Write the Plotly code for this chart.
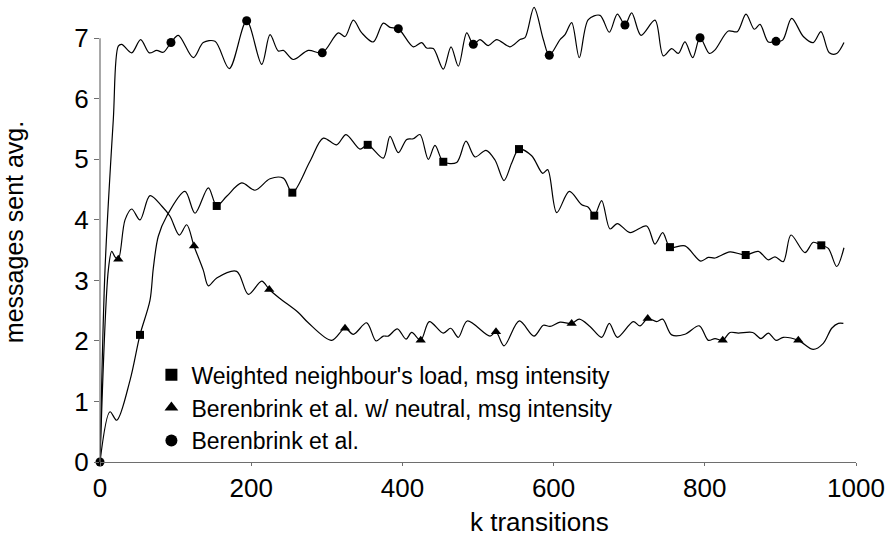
import plotly.graph_objects as go

# ---------------- data ----------------
ber_x = [0, 6.6, 17.6, 24.2, 28.7, 41.9, 53.8, 65.2, 75.0, 83.7, 93.9, 103.6, 123.4, 136.6, 152.1,
         171.0, 194.0, 213.9, 224.9, 235.8, 242.5, 255.7, 275.5, 294.0, 315.2, 324.1, 335.1, 346.2,
         361.5, 374.7, 383.6, 394.6, 414.4, 425.5, 432.1, 440.9, 454.1, 464.3, 474.0, 485.1, 493.8,
         502.6, 513.6, 524.7, 542.3, 555.6, 562.2, 574.1, 586.4, 594.3, 608.5, 615.1, 623.9, 634.0,
         645.9, 661.4, 673.7, 684.3, 694.4, 703.3, 715.6, 734.1, 745.1, 756.2, 764.9, 773.8, 784.0,
         793.7, 806.0, 813.5, 831.1, 843.0, 854.5, 865.5, 873.0, 884.0, 894.2, 903.0, 914.9, 930.3,
         943.5, 953.7, 964.7, 974.5, 984.1]
ber_y = [0, 3.17, 5.66, 6.87, 6.90, 6.76, 6.98, 6.76, 6.80, 6.77, 6.93, 7.05, 6.68, 6.93, 6.95,
         6.50, 7.29, 6.57, 7.06, 6.79, 6.80, 6.65, 6.80, 6.76, 7.09, 7.03, 7.30, 7.09,
         6.94, 7.25, 7.18, 7.16, 6.86, 6.93, 6.84, 6.83, 6.49, 6.86, 6.54, 7.09, 6.90,
         6.98, 6.88, 6.98, 6.86, 6.98, 7.01, 7.51, 6.98, 6.72, 6.98, 7.06, 7.26, 6.68,
         7.31, 7.38, 7.10, 7.40, 7.22, 7.42, 7.05, 7.30, 6.71, 6.83, 6.75, 6.94, 6.68,
         7.01, 6.75, 6.81, 7.12, 7.11, 7.40, 7.15, 7.23, 6.94, 6.95, 6.97, 7.33, 7.03,
         6.93, 7.11, 6.76, 6.75, 6.93]
ber_mark_x = [0, 93.9, 194.0, 294.0, 394.6, 493.8, 594.3, 694.4, 793.7, 894.2]
ber_mark_y = [0, 6.93, 7.29, 6.76, 7.16, 6.90, 6.72, 7.22, 7.01, 6.95]

wnl_x = [0, 13.2, 22.1, 39.7, 52.9, 66.1, 70.5, 77.1, 88.2, 112.4, 125.7, 143.3, 154.4, 167.6,
         187.4, 205.0, 224.9, 242.5, 254.4, 277.8, 295.4, 313.1, 325.4, 343.9, 354.1, 374.7,
         383.6, 394.6, 405.7, 414.4, 423.3, 434.3, 443.1, 454.1, 471.8, 484.1, 496.0, 510.6,
         522.5, 534.4, 544.6, 554.2, 571.0, 585.6, 592.2, 604.1, 620.8, 637.2, 645.9, 653.8,
         663.6, 674.6, 684.3, 701.1, 723.1, 734.1, 744.3, 753.9, 773.8, 794.6, 804.6, 813.5,
         833.3, 854.1, 870.8, 884.0, 892.9, 903.8, 914.0, 932.5, 943.5, 954.1, 963.4, 974.5, 984.1]
wnl_y = [0, 0.83, 0.69, 1.35, 2.10, 2.67, 3.20, 3.73, 4.06, 4.47, 4.11, 4.53, 4.23, 4.39,
         4.61, 4.49, 4.68, 4.69, 4.45, 4.97, 5.35, 5.24, 5.41, 5.17, 5.24, 5.02,
         5.38, 5.11, 5.33, 5.34, 5.41, 5.00, 5.23, 4.96, 4.95, 5.30, 5.04, 5.15,
         4.99, 4.65, 4.94, 5.17, 5.06, 4.77, 4.83, 4.12, 4.47, 4.25, 4.21, 4.07,
         4.32, 3.85, 3.94, 3.79, 3.90, 3.60, 3.79, 3.55, 3.57, 3.32, 3.38, 3.37,
         3.47, 3.42, 3.48, 3.34, 3.39, 3.31, 3.75, 3.46, 3.63, 3.58, 3.53, 3.23, 3.54]
wnl_mark_x = [52.9, 154.4, 254.4, 354.1, 454.1, 554.2, 653.8, 753.9, 854.1, 954.1]
wnl_mark_y = [2.10, 4.23, 4.45, 5.24, 4.96, 5.17, 4.07, 3.55, 3.42, 3.58]

neu_x = [0, 11.0, 15.5, 19.8, 24.2, 33.1, 41.9, 52.9, 66.1, 81.6, 92.6, 104.9, 114.7, 124.3,
         136.6, 143.3, 154.4, 180.8, 196.2, 213.9, 223.9, 238.1, 262.3, 275.5, 306.5, 324.1,
         335.1, 352.8, 365.1, 374.7, 381.3, 393.3, 404.8, 412.3, 424.2, 435.6, 454.1, 463.9,
         473.9, 485.8, 515.9, 523.8, 534.4, 554.6, 574.1, 586.4, 595.2, 608.5, 623.9, 634.0,
         648.1, 663.6, 673.7, 684.3, 705.4, 714.3, 724.5, 736.4, 744.3, 756.2, 773.8, 792.7,
         804.6, 813.5, 823.7, 833.3, 844.3, 863.4, 874.3, 884.0, 894.2, 903.8, 923.7, 943.5,
         956.7, 967.9, 976.7, 983.3]
neu_y = [0, 3.17, 3.48, 3.39, 3.35, 4.00, 4.18, 4.00, 4.40, 4.23, 4.06, 3.75, 3.92, 3.57,
         3.17, 2.91, 3.04, 3.15, 2.77, 2.99, 2.85, 2.70, 2.47, 2.30, 2.01, 2.21,
         2.11, 2.30, 2.00, 2.08, 2.08, 2.20, 2.03, 2.14, 2.01, 2.32, 2.13, 2.21,
         2.06, 2.33, 2.08, 2.15, 1.92, 2.33, 2.08, 2.26, 2.24, 2.31, 2.29, 2.36,
         2.24, 2.06, 2.29, 2.06, 2.32, 2.25, 2.37, 2.32, 2.36, 2.10, 2.11, 2.25,
         2.01, 2.04, 2.01, 2.14, 2.13, 2.14, 2.04, 2.13, 2.01, 2.06, 2.01, 1.86,
         1.96, 2.21, 2.29, 2.29]
neu_mark_x = [24.2, 124.3, 223.9, 324.1, 424.2, 523.8, 623.9, 724.5, 823.7, 923.7]
neu_mark_y = [3.35, 3.57, 2.85, 2.21, 2.01, 2.15, 2.29, 2.37, 2.01, 2.01]

names = ["Weighted neighbour's load, msg intensity",
         "Berenbrink et al. w/ neutral, msg intensity",
         "Berenbrink et al."]
x_ticks = [0, 200, 400, 600, 800, 1000]
y_ticks = [0, 1, 2, 3, 4, 5, 6, 7]
x_title = "k transitions"
y_title = "messages sent avg."

# ---------------- figure ----------------
FONT = "Liberation Sans, Arial, sans-serif"
AXC = "#6e6e6e"
fig = go.Figure()

series = [
    (wnl_x, wnl_y, wnl_mark_x, wnl_mark_y, "square", 8, names[0]),
    (neu_x, neu_y, neu_mark_x, neu_mark_y, "triangle-up", 9, names[1]),
    (ber_x, ber_y, ber_mark_x, ber_mark_y, "circle", 9, names[2]),
]
for xs, ys, mx, my, sym, sz, nm in series:
    fig.add_trace(go.Scatter(x=xs, y=ys, mode="lines", showlegend=False,
                             line=dict(color="black", width=1.2, shape="spline", smoothing=0.9),
                             hoverinfo="skip"))
for xs, ys, mx, my, sym, sz, nm in series:
    fig.add_trace(go.Scatter(x=mx, y=my, mode="markers", name=nm, cliponaxis=False,
                             marker=dict(symbol=sym, size=sz, color="black", line=dict(width=0))))

fig.update_layout(
    width=887, height=540,
    margin=dict(l=100, r=31, t=2, b=78),
    plot_bgcolor="white", paper_bgcolor="white",
    font=dict(family=FONT, size=26, color="black"),
    showlegend=True,
    legend=dict(x=0.068, y=0.118, xanchor="left", yanchor="middle",
                bgcolor="rgba(0,0,0,0)", borderwidth=0,
                font=dict(family=FONT, size=23, color="black"),
                itemsizing="constant", tracegroupgap=0),
    xaxis=dict(range=[0, 1000], tickvals=x_ticks, showgrid=False, zeroline=False,
               showline=True, linecolor=AXC, linewidth=1.2,
               ticks="outside", ticklen=3, tickcolor=AXC, tickwidth=1,
               tickfont=dict(family=FONT, size=26, color="black")),
    yaxis=dict(range=[0, 7.6], tickvals=y_ticks, showgrid=False, zeroline=False,
               showline=False, ticks="outside", ticklen=5, tickcolor=AXC, tickwidth=1,
               tickfont=dict(family=FONT, size=26, color="black"),
               title=dict(text=y_title, standoff=46, font=dict(family=FONT, size=25))),
    annotations=[dict(text=x_title, x=0.581, y=-0.13, xref="paper", yref="paper",
                      xanchor="center", yanchor="middle", showarrow=False,
                      font=dict(family=FONT, size=26, color="black"))],
    shapes=[dict(type="line", xref="paper", yref="y", x0=0, x1=0, y0=0, y1=y_ticks[-1],
                 line=dict(color=AXC, width=1.2))],
)

fig.write_html("out.html")
